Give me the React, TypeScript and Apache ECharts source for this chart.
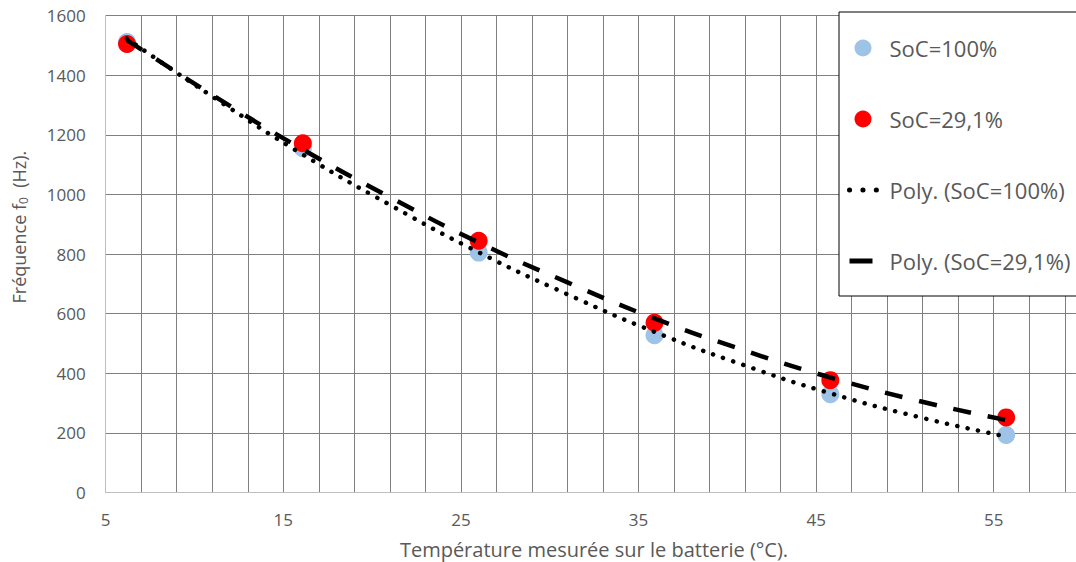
import React, { useEffect, useRef } from "react";
import * as echarts from "echarts";

const tempC = [6.2, 16.1, 26.0, 35.9, 45.8, 55.7];
const freqSoc100 = [1512, 1155, 805, 528, 330, 193];
const freqSoc291 = [1505, 1172, 845, 570, 377, 252];

const trendTemp = [6.2, 11.2, 16.1, 21.1, 26.0, 31.0, 35.9, 40.9, 45.8, 50.8, 55.7];
const trendSoc100 = [1523, 1321, 1134, 962, 806, 665, 539, 428, 333, 253, 188];
const trendSoc291 = [1518, 1327, 1151, 988, 839, 705, 584, 478, 386, 307, 243];

const xLabelTicks = [5, 15, 25, 35, 45, 55];
const seriesNames = ["SoC=100%", "SoC=29,1%", "Poly. (SoC=100%)", "Poly. (SoC=29,1%)"];

const FONT = "Open Sans";
const TEXT = "#595959";
const GRID = "#7F7F7F";

const zip = (xs: number[], ys: number[]) => xs.map((x, i) => [x, ys[i]]);

export default function App() {
  const ref = useRef<HTMLDivElement>(null);
  useEffect(() => {
    if (!ref.current) return;
    const chart = echarts.init(ref.current, undefined, { renderer: "svg" });
    chart.setOption({
      animation: false,
      backgroundColor: "#ffffff",
      grid: {
        left: 105.7,
        top: 15.7,
        bottom: 69.5,
        right: -24.3,
        containLabel: false,
        outerBoundsMode: "none",
      },
      xAxis: {
        type: "value",
        min: 5,
        max: 61,
        interval: 2,
        axisLine: { show: true, lineStyle: { color: "#BFBFBF", width: 1 } },
        axisTick: { show: false },
        splitLine: { show: true, showMinLine: false, lineStyle: { color: GRID, width: 1 } },
        axisLabel: {
          formatter: (v: number) => (xLabelTicks.includes(v) ? String(v) : ""),
          fontSize: 17,
          color: TEXT,
          fontFamily: FONT,
          margin: 18,
        },
        name: "Température mesurée sur le batterie (°C).",
        nameLocation: "middle",
        nameGap: 46,
        nameTextStyle: {
          fontSize: 20,
          lineHeight: 22,
          color: TEXT,
          fontFamily: FONT,
          padding: [0, 18, 0, 0],
        },
      },
      yAxis: {
        type: "value",
        min: 0,
        max: 1600,
        interval: 200,
        axisLine: { show: true, lineStyle: { color: "#BFBFBF", width: 1 } },
        axisTick: { show: false },
        splitLine: { show: true, showMinLine: false, lineStyle: { color: GRID, width: 1 } },
        axisLabel: {
          formatter: (v: number) => String(v),
          fontSize: 17,
          color: TEXT,
          fontFamily: FONT,
          margin: 20,
        },
        name: "Fréquence f{sub|0}  (Hz).",
        nameLocation: "middle",
        nameRotate: 90,
        nameGap: 76,
        nameTextStyle: {
          fontSize: 18,
          color: TEXT,
          fontFamily: FONT,
          padding: [0, 0, 0, 54],
          rich: {
            sub: { fontSize: 12, color: TEXT, fontFamily: FONT, verticalAlign: "bottom", lineHeight: 22 },
          },
        },
      },
      legend: {
        orient: "vertical",
        left: 839,
        top: 12,
        padding: [25, 40, 24, 8],
        itemGap: 49,
        itemWidth: 27,
        itemHeight: 17,
        borderColor: "#000000",
        borderWidth: 1,
        backgroundColor: "#ffffff",
        textStyle: { fontSize: 22, color: TEXT, fontFamily: FONT, padding: [0, 0, 0, 8], lineHeight: 22 },
        data: [
          { name: seriesNames[0] },
          { name: seriesNames[1] },
          {
            name: seriesNames[2],
            itemStyle: { opacity: 0 },
            lineStyle: { color: "#000000", width: 5, type: [0.1, 13.3], cap: "round" },
          },
          {
            name: seriesNames[3],
            itemStyle: { opacity: 0 },
            lineStyle: { color: "#000000", width: 5, type: [23, 10], cap: "butt" },
          },
        ],
      },
      series: [
        {
          name: seriesNames[0],
          type: "scatter",
          data: zip(tempC, freqSoc100),
          symbolSize: 18,
          itemStyle: { color: "#9DC3E6", opacity: 1 },
        },
        {
          name: seriesNames[1],
          type: "scatter",
          data: zip(tempC, freqSoc291),
          symbolSize: 18,
          itemStyle: { color: "#FF0000", opacity: 1 },
        },
        {
          name: seriesNames[2],
          type: "line",
          data: zip(trendTemp, trendSoc100),
          smooth: true,
          symbol: "none",
          itemStyle: { color: "#000000" },
          lineStyle: { color: "#000000", width: 4.5, type: [0.1, 10.5], cap: "round" },
        },
        {
          name: seriesNames[3],
          type: "line",
          data: zip(trendTemp, trendSoc291),
          smooth: true,
          symbol: "none",
          itemStyle: { color: "#000000" },
          lineStyle: { color: "#000000", width: 4.5, type: [18, 17] },
        },
      ],
    });
    return () => chart.dispose();
  }, []);
  return (
    <div
      ref={ref}
      style={{ position: "absolute", left: 0, top: 0, width: 1076, height: 562, background: "#fff" }}
    />
  );
}
